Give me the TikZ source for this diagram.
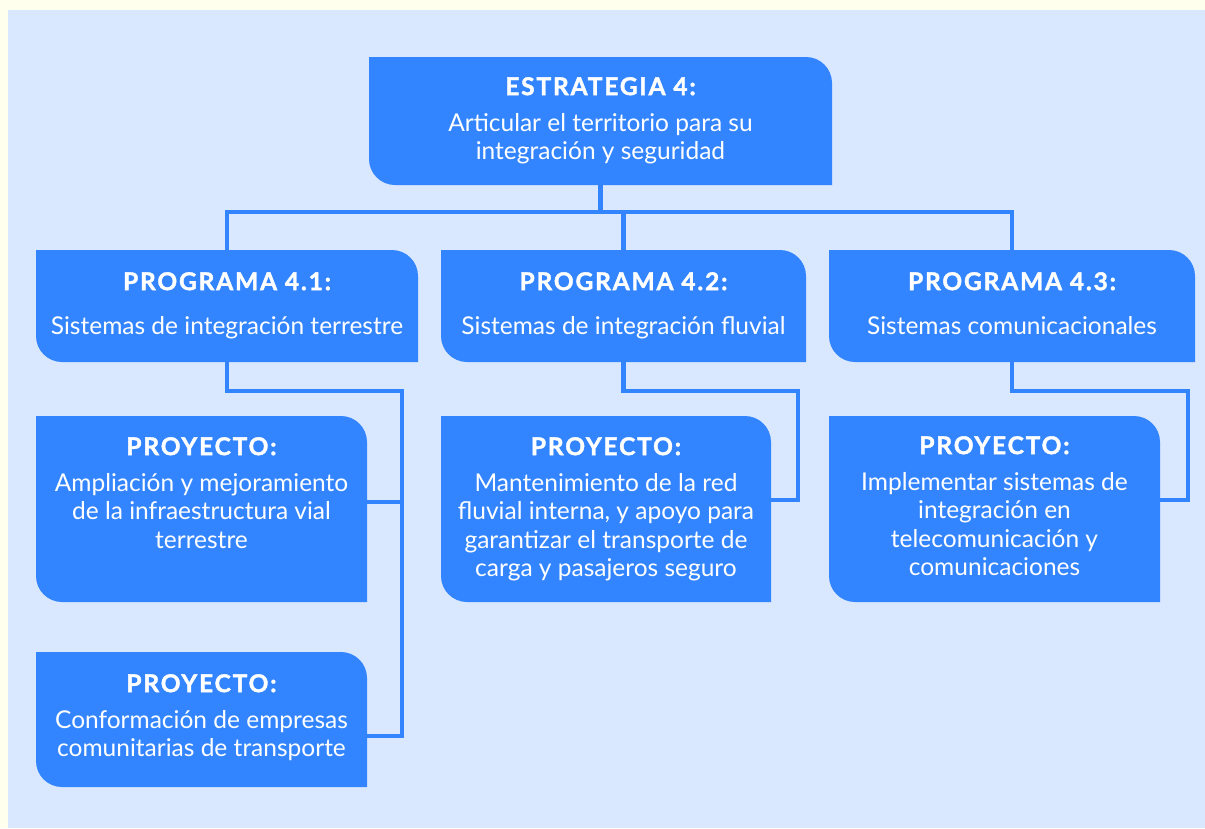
\documentclass[tikz,border=0pt]{standalone}
\usepackage{fontspec}
\setmainfont{Lato}
\newfontfamily\hdfont{Lato}[LetterSpace=7.5,BoldFeatures={FakeBold=1.6}]
\definecolor{outerbg}{HTML}{FFFFEE}
\definecolor{panelbg}{HTML}{D9E7FF}
\definecolor{boxblue}{HTML}{3385FF}
\newcommand\headtxt[1]{{\fontsize{24.5}{28.5}\selectfont\hdfont\bfseries #1}}
\newcommand\roundbox[1]{\fill[boxblue] (#1.north west) -- ([xshift=-26pt]#1.north east) arc[start angle=90,end angle=0,radius=26pt] -- (#1.south east) -- ([xshift=26pt]#1.south west) arc[start angle=270,end angle=180,radius=26pt] -- cycle;}
\begin{document}
\begin{tikzpicture}[x=1pt,y=-1pt,
  boxn/.style={rectangle,inner sep=0pt,outer sep=0pt,draw=none,anchor=north west},
  conn/.style={draw=boxblue,line width=4.5pt},
  txt/.style={text=white,align=center,inner sep=0pt,anchor=north,font=\fontsize{24.5}{28.5}\selectfont}]
\useasboundingbox (0,0) rectangle (1205,828);
\fill[outerbg] (0,0) rectangle (1205,828);
\fill[panelbg] (8,10) rectangle (1205,828);

% boxes
\node[boxn,minimum width=463pt,minimum height=128pt] (est) at (369,57) {};
\node[boxn,minimum width=382pt,minimum height=112pt] (p1) at (36,250) {};
\node[boxn,minimum width=365pt,minimum height=112pt] (p2) at (441,250) {};
\node[boxn,minimum width=366pt,minimum height=112pt] (p3) at (829,250) {};
\node[boxn,minimum width=331pt,minimum height=186pt] (j11) at (36,416) {};
\node[boxn,minimum width=331pt,minimum height=135pt] (j12) at (36,652) {};
\node[boxn,minimum width=330pt,minimum height=186pt] (j2) at (441,416) {};
\node[boxn,minimum width=331pt,minimum height=186pt] (j3) at (829,416) {};
\roundbox{est}\roundbox{p1}\roundbox{p2}\roundbox{p3}
\roundbox{j11}\roundbox{j12}\roundbox{j2}\roundbox{j3}

% connectors
\coordinate (bus) at (0,212);
\draw[conn] (est.south) -- (est.south |- bus);
\draw[conn] (p1.north) -- (p1.north |- bus) -- (p3.north |- bus) -- (p3.north);
\draw[conn] (p2.north |- bus) -- (p2.north);
\coordinate (l1) at (402,391);
\coordinate (l2) at (402,502);
\coordinate (l3) at (402,736);
\draw[conn] (p1.south) |- (l1) -- (l3) -- (l3 -| j12.east);
\draw[conn] (l2) -- (l2 -| j11.east);
\coordinate (m1) at (798,391);
\coordinate (m2) at (798,500);
\draw[conn] (p2.south) |- (m1) -- (m2) -- (m2 -| j2.east);
\coordinate (r1) at (1188,391);
\coordinate (r2) at (1188,500);
\draw[conn] (p3.south) |- (r1) -- (r2) -- (r2 -| j3.east);

% texts
\node[txt] (est-t) at (600.5,77) {\headtxt{ESTRATEGIA 4:}\\[7.5pt]Articular el territorio para su\\integración y seguridad};
\node[txt] (p1-t) at (227,272) {\headtxt{PROGRAMA 4.1:}\\[15.5pt]Sistemas de integración terrestre};
\node[txt] (p2-t) at (623.5,272) {\headtxt{PROGRAMA 4.2:}\\[15.5pt]Sistemas de integración fluvial};
\node[txt] (p3-t) at (1012,272) {\headtxt{PROGRAMA 4.3:}\\[15.5pt]Sistemas comunicacionales};
\node[txt] (j11-t) at (201.5,437) {\headtxt{PROYECTO:}\\[7.5pt]Ampliación y mejoramiento\\de la infraestructura vial\\terrestre};
\node[txt] (j12-t) at (201.5,674) {\headtxt{PROYECTO:}\\[7.5pt]Conformación de empresas\\comunitarias de transporte};
\node[txt] (j2-t) at (606,437) {\headtxt{PROYECTO:}\\[7.5pt]Mantenimiento de la red\\fluvial interna, y apoyo para\\garantizar el transporte de\\carga y pasajeros seguro};
\node[txt] (j3-t) at (994.5,436) {\headtxt{PROYECTO:}\\[7.5pt]Implementar sistemas de\\integración en\\telecomunicación y\\comunicaciones};
\end{tikzpicture}
\end{document}
